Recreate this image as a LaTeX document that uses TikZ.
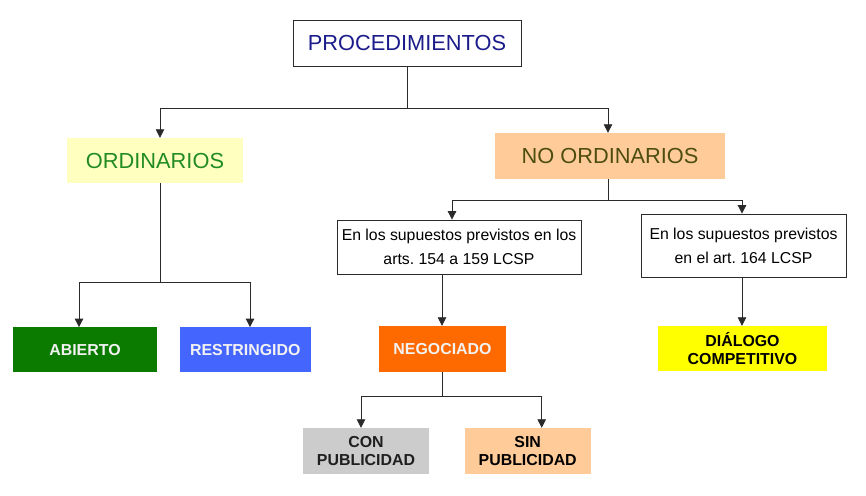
\documentclass[tikz,border=0pt]{standalone}
\usepackage{fontspec}
\setmainfont{Liberation Sans}
\usetikzlibrary{arrows.meta}
\frenchspacing
\definecolor{linec}{HTML}{2A2A2A}
\definecolor{procblue}{HTML}{1C1C8C}
\definecolor{ordgreen}{HTML}{228B22}
\definecolor{ordfill}{HTML}{FFFFC0}
\definecolor{noordtext}{HTML}{4D4D10}
\definecolor{peach}{HTML}{FFCC99}
\definecolor{abgreen}{HTML}{0B7B00}
\definecolor{restblue}{HTML}{4466FF}
\definecolor{negorange}{HTML}{FF6A00}
\definecolor{congray}{HTML}{CCCCCC}
\definecolor{dialyellow}{HTML}{FFFF00}
\definecolor{offwhite}{HTML}{F2F2F2}
\tikzset{
  box/.style={rectangle, inner sep=0pt, align=center},
  bigtext/.style={box, font=\fontsize{21.8}{25}\selectfont},
  smalltext/.style={box, draw=linec, line width=0.8pt, font=\fontsize{15.8}{24}\selectfont},
  boldtext/.style={box, font=\fontsize{15.9}{18}\selectfont\bfseries},
  conn/.style={draw=linec, line width=0.8pt},
  arr/.style={conn, -{Triangle[length=8.5pt,width=8.5pt]}},
}
\begin{document}
\begin{tikzpicture}[x=1pt,y=-1pt]
\useasboundingbox (0,0) rectangle (866,495);
\fill[white] (0,0) rectangle (866,495);

\node[bigtext, draw=linec, line width=0.8pt, fill=white, text=procblue, minimum width=228pt, minimum height=46pt] (proc) at (407,43) {PROCEDIMIENTOS};
\node[bigtext, fill=ordfill, text=ordgreen, minimum width=176pt, minimum height=45pt] (ord) at (155,160.5) {ORDINARIOS};
\node[bigtext, fill=peach, text=noordtext, minimum width=230pt, minimum height=46pt] (noord) at (610,156) {NO ORDINARIOS};

\node[smalltext, minimum width=244pt, minimum height=54pt] (sup1) at (459,247) {En los supuestos previstos en los\\arts. 154 a 159 LCSP};
\node[smalltext, minimum width=205pt, minimum height=63pt] (sup2) at (743.5,245.5) {En los supuestos previstos\\en el art. 164 LCSP};

\node[boldtext, fill=abgreen, text=offwhite, minimum width=144pt, minimum height=45pt] (abierto) at (85,349.8) {ABIERTO};
\node[boldtext, fill=restblue, text=offwhite, minimum width=131pt, minimum height=45pt] (restr) at (245.3,349.8) {RESTRINGIDO};
\node[boldtext, fill=negorange, text=offwhite, minimum width=127pt, minimum height=46pt] (nego) at (442.5,349) {NEGOCIADO};
\node[boldtext, fill=dialyellow, text=black, minimum width=169pt, minimum height=45pt] (dial) at (742.5,348.5) {DIÁLOGO\\COMPETITIVO};
\node[boldtext, fill=congray, text=black!88, minimum width=126pt, minimum height=46pt] (con) at (366,451) {CON\\PUBLICIDAD};
\node[boldtext, fill=peach, text=black, minimum width=126pt, minimum height=46pt] (sin) at (527.7,451) {SIN\\PUBLICIDAD};

% junctions
\coordinate (j1) at (407,108);
\coordinate (j2) at (160,282);
\coordinate (j3) at (608,200);
\coordinate (j4) at (442,396);

\draw[conn] (proc.south) -- (j1);
\draw[arr] (j1) -| ([xshift=5pt]ord.north);
\draw[arr] (j1) -| ([xshift=-2pt]noord.north);

\draw[conn] ([xshift=5pt]ord.south) -- (j2);
\draw[arr] (j2) -| ([xshift=-6pt]abierto.north);
\draw[arr] (j2) -| ([xshift=4.7pt]restr.north);

\draw[conn] ([xshift=-2pt]noord.south) -- (j3);
\draw[arr] (j3) -| ([xshift=-7pt]sup1.north);
\draw[arr] (j3) -| ([xshift=-1.5pt]sup2.north);

\draw[arr] ([xshift=-17pt]sup1.south) -- ([xshift=-0.5pt]nego.north);
\draw[arr] ([xshift=-1.5pt]sup2.south) -- ([xshift=-0.5pt]dial.north);

\draw[conn] ([xshift=-0.5pt]nego.south) -- (j4);
\draw[arr] (j4) -| ([xshift=-5pt]con.north);
\draw[arr] (j4) -| ([xshift=14pt]sin.north);
\end{tikzpicture}
\end{document}
